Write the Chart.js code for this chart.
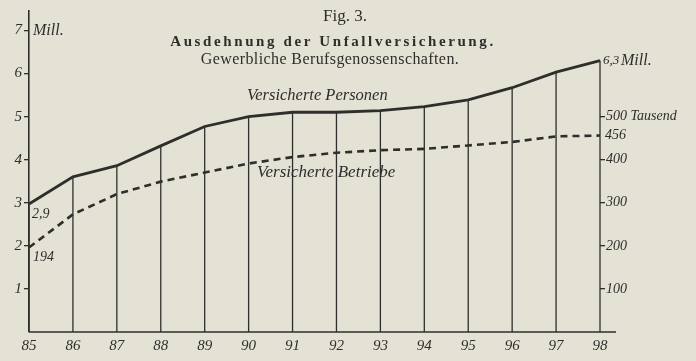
<!DOCTYPE html>
<html>
<head>
<meta charset="utf-8">
<script src="https://cdn.jsdelivr.net/npm/chart.js@4"></script>
<style>
  html, body { margin: 0; padding: 0; background: #e4e2d5; }
  #wrap { width: 696px; height: 361px; }
</style>
</head>
<body>
<div id="wrap"><canvas id="chart" width="696" height="361"></canvas></div>
<script>
// data
const years = ["85", "86", "87", "88", "89", "90", "91", "92", "93", "94", "95", "96", "97", "98"];
const personen = [2.97, 3.6, 3.86, 4.32, 4.77, 5.0, 5.1, 5.1, 5.14, 5.23, 5.39, 5.67, 6.03, 6.3]; // Mill.
const betriebe = [196, 273, 320, 349, 370, 391, 406, 416, 422, 425, 433, 441, 454, 456]; // Tausend
const leftTicks = [1, 2, 3, 4, 5, 6, 7];
const rightTicks = [100, 200, 300, 400, 500];

const ink = "#2f2e2c";
const serif = "'Liberation Serif', 'DejaVu Serif', serif";

/* ---------------- EXTRA DRAWING ---------------- */
const figPlugin = {
  id: "fig",
  beforeDraw(chart) {
    const { ctx } = chart;
    ctx.save();
    ctx.fillStyle = "#e4e2d5";
    ctx.fillRect(0, 0, chart.width, chart.height);
    ctx.restore();
  },
  beforeDatasetsDraw(chart) {
    // drop lines from the Personen curve down to the base line
    const { ctx, chartArea } = chart;
    const pts = chart.getDatasetMeta(0).data;
    ctx.save();
    ctx.strokeStyle = ink;
    ctx.lineWidth = 1.3;
    pts.forEach((p) => {
      ctx.beginPath();
      ctx.moveTo(p.x, chartArea.bottom);
      ctx.lineTo(p.x, p.y);
      ctx.stroke();
    });
    // base line runs a bit past the last year
    ctx.lineWidth = 1.6;
    ctx.beginPath();
    ctx.moveTo(chartArea.left, chartArea.bottom);
    ctx.lineTo(chartArea.right + 16, chartArea.bottom);
    ctx.stroke();
    ctx.restore();
  },
  afterDraw(chart) {
    const { ctx, scales } = chart;
    const p = chart.getDatasetMeta(0).data;
    const b = chart.getDatasetMeta(1).data;
    const last = p.length - 1;
    ctx.save();
    ctx.fillStyle = ink;
    ctx.textBaseline = "middle";

    // titles
    ctx.textAlign = "center";
    ctx.font = `17px ${serif}`;
    ctx.fillText("Fig. 3.", 345, 17);
    ctx.font = `bold 15px ${serif}`;
    ctx.letterSpacing = "2.6px";
    ctx.fillText("Ausdehnung der Unfallversicherung.", 333, 42);
    ctx.letterSpacing = "0.4px";
    ctx.font = `16px ${serif}`;
    ctx.fillText("Gewerbliche Berufsgenossenschaften.", 330, 60);
    ctx.letterSpacing = "0px";

    // unit labels
    ctx.textAlign = "left";
    ctx.font = `italic 16px ${serif}`;
    ctx.fillText("Mill.", scales.y.right + 4, scales.y.getPixelForValue(7));

    // series names
    ctx.font = `italic 16.5px ${serif}`;
    ctx.fillText("Versicherte Personen", 247, 96);
    ctx.font = `italic 17px ${serif}`;
    ctx.fillText("Versicherte Betriebe", 257, 173);

    // end values
    ctx.font = `italic 14px ${serif}`;
    ctx.fillText("2,9", p[0].x + 3, p[0].y + 10);
    ctx.fillText("194", b[0].x + 4, b[0].y + 10);
    ctx.fillText("456", b[last].x + 5, b[last].y);
    ctx.font = `italic 13px ${serif}`;
    ctx.fillText("6,3", p[last].x + 3, p[last].y);
    ctx.font = `italic 16px ${serif}`;
    ctx.fillText("Mill.", p[last].x + 21, p[last].y);
    ctx.restore();
  },
};

/* ---------------- CHART ---------------- */
new Chart(document.getElementById("chart"), {
  type: "line",
  data: {
    labels: years,
    datasets: [
      {
        label: "Versicherte Personen",
        data: personen,
        yAxisID: "y",
        borderColor: ink,
        borderWidth: 2.8,
        pointRadius: 0,
        tension: 0,
      },
      {
        label: "Versicherte Betriebe",
        data: betriebe,
        yAxisID: "y2",
        borderColor: ink,
        borderWidth: 2.6,
        borderDash: [7, 5],
        pointRadius: 0,
        tension: 0,
      },
    ],
  },
  options: {
    responsive: false,
    animation: false,
    layout: { padding: { top: 7 } },
    plugins: { legend: { display: false }, tooltip: { enabled: false } },
    scales: {
      x: {
        type: "category",
        offset: false,
        grid: { display: false, drawTicks: false },
        border: { display: false },
        ticks: {
          color: ink,
          font: { family: serif, style: "italic", size: 15 },
          padding: 5,
          maxRotation: 0,
          autoSkip: false,
        },
        afterFit(s) { s.height = 29; },
      },
      y: {
        position: "left",
        min: 0,
        max: 7.45,
        afterBuildTicks(s) { s.ticks = leftTicks.map((v) => ({ value: v })); },
        grid: { drawOnChartArea: false, tickLength: 5, color: ink, lineWidth: 1.3 },
        border: { display: true, color: ink, width: 1.6 },
        ticks: {
          color: ink,
          padding: 2,
          font: { family: serif, style: "italic", size: 15 },
        },
        afterFit(s) { s.width = 29; },
      },
      y2: {
        position: "right",
        min: 0,
        max: 745,
        afterBuildTicks(s) { s.ticks = rightTicks.map((v) => ({ value: v })); },
        grid: { drawOnChartArea: false, tickLength: 5, color: ink, lineWidth: 1.3 },
        border: { display: false },
        ticks: {
          color: ink,
          padding: 1,
          font: { family: serif, style: "italic", size: 14 },
          callback: (v) => (v === 500 ? "500 Tausend" : String(v)),
        },
        afterFit(s) { s.width = 96; },
      },
    },
  },
  plugins: [figPlugin],
});
</script>
</body>
</html>
